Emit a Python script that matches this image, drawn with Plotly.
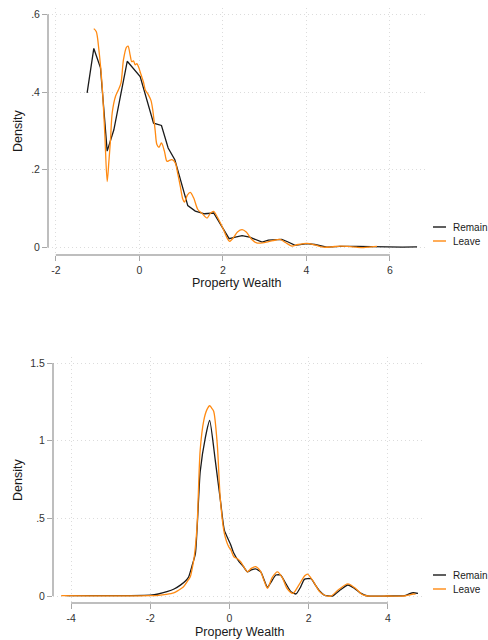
import plotly.graph_objects as go

# ---------------- data ----------------
top_remain_x = [-1.25, -1.09, -0.93, -0.77, -0.61, -0.29, 0.02, 0.34, 0.53, 0.69, 0.85, 1.16, 1.34, 1.56,
                1.78, 1.95, 2.15, 2.30, 2.46, 2.64, 2.94, 3.09, 3.41, 3.55, 3.73, 4.01, 4.20, 4.49, 4.80,
                5.20, 5.60, 6.00, 6.30, 6.65]
top_remain_y = [0.398, 0.512, 0.462, 0.248, 0.303, 0.479, 0.440, 0.320, 0.314, 0.256, 0.226, 0.108, 0.094,
                0.087, 0.089, 0.060, 0.023, 0.027, 0.031, 0.027, 0.014, 0.019, 0.021, 0.015, 0.006, 0.010,
                0.008, 0.001, 0.003, 0.003, 0.002, 0.001, 0.001, 0.002]

top_leave_x = [-1.09, -1.03, -0.97, -0.89, -0.83, -0.77, -0.73, -0.69, -0.65, -0.57, -0.50, -0.44, -0.38,
               -0.31, -0.27, -0.22, -0.18, -0.14, -0.10, -0.06, -0.02, 0.04, 0.10, 0.14, 0.22, 0.28, 0.32,
               0.38, 0.42, 0.47, 0.53, 0.60, 0.66, 0.72, 0.78, 0.86, 0.92, 0.98, 1.04, 1.08, 1.15, 1.22,
               1.30, 1.40, 1.50, 1.62, 1.70, 1.78, 1.85, 2.00, 2.10, 2.16, 2.25, 2.35, 2.46, 2.56, 2.70,
               2.81, 2.95, 3.05, 3.20, 3.37, 3.50, 3.65, 3.80, 4.01, 4.20, 4.41, 4.60, 4.81, 5.00, 5.20,
               5.37, 5.55, 5.69]
top_leave_y = [0.563, 0.555, 0.510, 0.415, 0.300, 0.170, 0.220, 0.278, 0.346, 0.389, 0.406, 0.423, 0.483,
               0.515, 0.518, 0.495, 0.478, 0.480, 0.470, 0.473, 0.465, 0.445, 0.425, 0.406, 0.392, 0.378,
               0.355, 0.300, 0.265, 0.258, 0.269, 0.248, 0.222, 0.224, 0.226, 0.218, 0.190, 0.158, 0.125,
               0.117, 0.135, 0.142, 0.128, 0.098, 0.088, 0.076, 0.088, 0.093, 0.082, 0.050, 0.025, 0.016,
               0.025, 0.040, 0.046, 0.040, 0.020, 0.012, 0.012, 0.014, 0.018, 0.021, 0.013, 0.004, 0.008,
               0.011, 0.007, 0.001, 0.002, 0.004, 0.003, 0.001, 0.000, 0.002, 0.003]

bot_remain_x = [-4.12, -3.5, -3.0, -2.5, -2.0, -1.80, -1.58, -1.40, -1.24, -1.10, -1.03, -0.94, -0.86,
                -0.74, -0.61, -0.50, -0.36, -0.23, -0.13, 0.03, 0.10, 0.24, 0.35, 0.45, 0.55, 0.66, 0.79,
                0.96, 1.05, 1.17, 1.29, 1.40, 1.55, 1.68, 1.80, 1.89, 2.06, 2.17, 2.27, 2.40, 2.60, 2.80,
                2.99, 3.15, 3.30, 3.49, 4.00, 4.42, 4.55, 4.64, 4.76]
bot_remain_y = [0.002, 0.002, 0.002, 0.003, 0.006, 0.013, 0.028, 0.045, 0.070, 0.100, 0.124, 0.200, 0.275,
                0.800, 1.020, 1.130, 0.875, 0.617, 0.424, 0.330, 0.280, 0.221, 0.190, 0.156, 0.168, 0.175,
                0.155, 0.056, 0.090, 0.135, 0.135, 0.090, 0.028, 0.013, 0.060, 0.107, 0.111, 0.070, 0.034,
                0.005, 0.000, 0.040, 0.071, 0.050, 0.020, 0.000, 0.000, 0.002, 0.015, 0.021, 0.017]

bot_leave_x = [-4.25, -3.5, -3.0, -2.5, -2.0, -1.79, -1.60, -1.41, -1.30, -1.16, -1.05, -0.99, -0.94, -0.89,
               -0.82, -0.74, -0.65, -0.57, -0.50, -0.45, -0.40, -0.31, -0.23, -0.13, -0.02, 0.03, 0.11,
               0.20, 0.28, 0.37, 0.45, 0.55, 0.66, 0.78, 0.87, 0.96, 1.08, 1.21, 1.33, 1.45, 1.60, 1.75,
               1.90, 1.97, 2.10, 2.27, 2.40, 2.56, 2.75, 2.99, 3.20, 3.35, 3.49, 4.00, 4.42, 4.55, 4.64, 4.70]
bot_leave_y = [0.002, 0.001, 0.001, 0.001, 0.002, 0.004, 0.010, 0.020, 0.035, 0.060, 0.100, 0.124, 0.180,
               0.253, 0.446, 0.940, 1.130, 1.200, 1.225, 1.210, 1.190, 0.980, 0.617, 0.403, 0.317, 0.300,
               0.253, 0.240, 0.221, 0.185, 0.156, 0.178, 0.189, 0.160, 0.100, 0.050, 0.120, 0.156, 0.120,
               0.050, 0.017, 0.070, 0.130, 0.141, 0.100, 0.030, 0.005, 0.000, 0.040, 0.078, 0.045, 0.010,
               0.000, 0.000, 0.000, 0.008, 0.013, 0.012]

top_xticks = [-2, 0, 2, 4, 6]
top_xlabels = ["-2", "0", "2", "4", "6"]
top_yticks = [0, 0.2, 0.4, 0.6]
top_ylabels = ["0", ".2", ".4", ".6"]
bot_xticks = [-4, -2, 0, 2, 4]
bot_xlabels = ["-4", "-2", "0", "2", "4"]
bot_yticks = [0, 0.5, 1, 1.5]
bot_ylabels = ["0", ".5", "1", "1.5"]
series_names = ["Remain", "Leave"]
x_title = "Property Wealth"
y_title = "Density"

# ---------------- styling ----------------
W, H = 488, 640
BLACK = "#1a1a1a"
ORANGE = "#ff8a12"
AXIS = "#a8a8a8"
GRID = "#dcdcdc"
FONT = "Liberation Sans, Arial, sans-serif"

def px_x(p):
    return p / W

def px_y(p):
    return 1 - p / H

fig = go.Figure()
fig.add_trace(go.Scatter(x=top_remain_x, y=top_remain_y, mode="lines", name=series_names[0],
                         line=dict(color=BLACK, width=1.3), xaxis="x", yaxis="y", showlegend=False))
fig.add_trace(go.Scatter(x=top_leave_x, y=top_leave_y, mode="lines", name=series_names[1],
                         line=dict(color=ORANGE, width=1.3, shape="spline", smoothing=0.8),
                         xaxis="x", yaxis="y", showlegend=False))
fig.add_trace(go.Scatter(x=bot_remain_x, y=bot_remain_y, mode="lines", name=series_names[0],
                         line=dict(color=BLACK, width=1.3, shape="spline", smoothing=0.5),
                         xaxis="x2", yaxis="y2", showlegend=False))
fig.add_trace(go.Scatter(x=bot_leave_x, y=bot_leave_y, mode="lines", name=series_names[1],
                         line=dict(color=ORANGE, width=1.3, shape="spline", smoothing=0.8),
                         xaxis="x2", yaxis="y2", showlegend=False))

common_axis = dict(showgrid=True, gridcolor=GRID, griddash="1px,3px", gridwidth=1, zeroline=False,
                   showline=False, ticks="outside", ticklen=5, tickwidth=1, tickcolor=AXIS,
                   tickfont=dict(family=FONT, size=10.5, color="#333333"), fixedrange=True)

fig.update_layout(
    xaxis=dict(common_axis, domain=[px_x(48), px_x(425)], range=[-2.187, 6.84],
               tickvals=top_xticks, ticktext=top_xlabels, anchor="y"),
    yaxis=dict(common_axis, domain=[px_y(255), px_y(8)], range=[-0.019, 0.616],
               tickvals=top_yticks, ticktext=top_ylabels, anchor="x"),
    xaxis2=dict(common_axis, domain=[px_x(53), px_x(425)], range=[-4.457, 4.937],
                tickvals=bot_xticks, ticktext=bot_xlabels, anchor="y2"),
    yaxis2=dict(common_axis, domain=[px_y(603), px_y(357)], range=[-0.045, 1.539],
                tickvals=bot_yticks, ticktext=bot_ylabels, anchor="x2"),
)

shapes = []
# axis lines spanning the tick range only
for xr, yr, xt, yt in [("x", "y", top_xticks, top_yticks), ("x2", "y2", bot_xticks, bot_yticks)]:
    shapes.append(dict(type="line", xref=xr, yref=yr + " domain", x0=xt[0], x1=xt[-1], y0=0, y1=0,
                       line=dict(color=AXIS, width=1.5)))
    shapes.append(dict(type="line", xref=xr + " domain", yref=yr, x0=0, x1=0, y0=yt[0], y1=yt[-1],
                       line=dict(color=AXIS, width=1.5)))

annotations = []
# legends (manual, to match the short line keys)
for (y_r, y_l) in [(227, 241), (575, 589)]:
    for yy, col, name in [(y_r, BLACK, series_names[0]), (y_l, ORANGE, series_names[1])]:
        shapes.append(dict(type="line", xref="paper", yref="paper", x0=px_x(433), x1=px_x(446),
                           y0=px_y(yy), y1=px_y(yy), line=dict(color=col, width=1.4)))
        annotations.append(dict(text=name, xref="paper", yref="paper", x=px_x(451), y=px_y(yy),
                                xanchor="left", yanchor="middle", showarrow=False,
                                font=dict(family=FONT, size=10, color="#1a1a1a")))

# axis titles
for (cx, cy) in [(236, 283), (239, 632)]:
    annotations.append(dict(text=x_title, xref="paper", yref="paper", x=px_x(cx), y=px_y(cy),
                            xanchor="center", yanchor="middle", showarrow=False,
                            font=dict(family=FONT, size=12.5, color="#1a1a1a")))
for (cx, cy) in [(18, 131), (18, 480)]:
    annotations.append(dict(text=y_title, xref="paper", yref="paper", x=px_x(cx), y=px_y(cy),
                            xanchor="center", yanchor="middle", showarrow=False, textangle=-90,
                            font=dict(family=FONT, size=12.5, color="#1a1a1a")))

fig.update_layout(
    width=W, height=H,
    margin=dict(l=0, r=0, t=0, b=0, autoexpand=False),
    paper_bgcolor="white", plot_bgcolor="white",
    showlegend=False,
    shapes=shapes, annotations=annotations,
    font=dict(family=FONT),
)

fig.write_html("out.html", config={"displayModeBar": False})
